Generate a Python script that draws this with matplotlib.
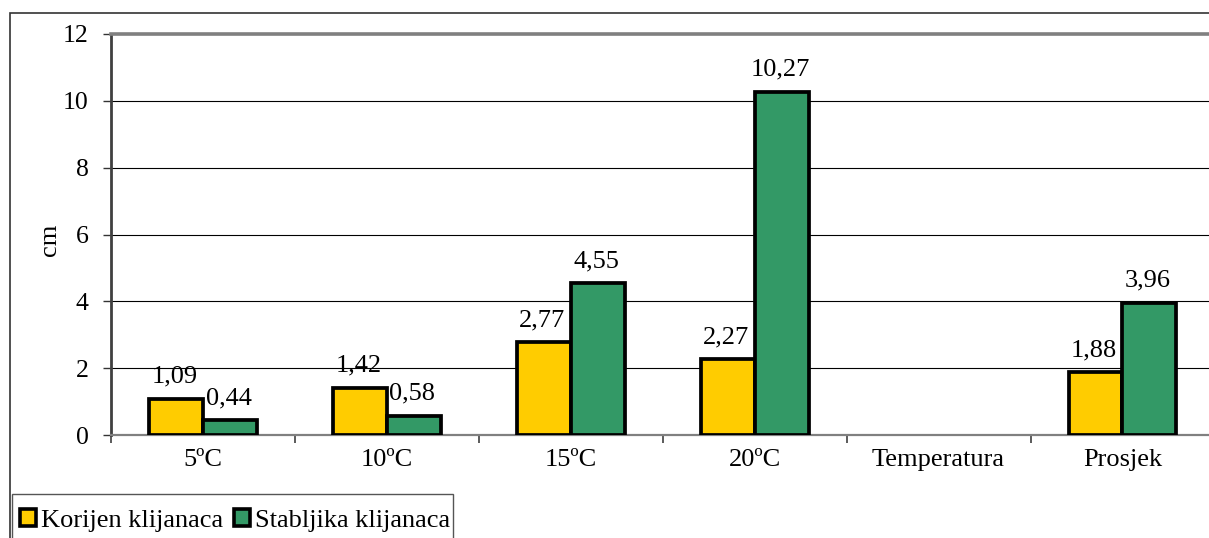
import numpy as np
import matplotlib
matplotlib.use("Agg")
import matplotlib.pyplot as plt
from matplotlib.patches import Rectangle, Patch
from matplotlib.ticker import FixedLocator

plt.rcParams['font.family'] = ['Liberation Serif', 'DejaVu Serif']

categories = ["5ºC", "10ºC", "15ºC", "20ºC", "Temperatura", "Prosjek"]
korijen = [1.09, 1.42, 2.77, 2.27, np.nan, 1.88]
stabljika = [0.44, 0.58, 4.55, 10.27, np.nan, 3.96]
series_names = ["Korijen klijanaca", "Stabljika klijanaca"]
y_ticks = [0, 2, 4, 6, 8, 10, 12]

yellow = "#FFCC00"
green = "#339966"

W, H = 1209, 538
fig = plt.figure(figsize=(W / 100, H / 100), dpi=100)

# outer chart border
fig.patches.append(Rectangle((10 / W, -0.2), 2.0, (H - 13) / H + 0.2,
                             transform=fig.transFigure, fill=False,
                             edgecolor="#333333", linewidth=1.2, zorder=0))
# legend frame (extends below the image)
fig.patches.append(Rectangle((12 / W, -0.2), (453 - 12) / W, (H - 494) / H + 0.2,
                             transform=fig.transFigure, fill=False,
                             edgecolor="#555555", linewidth=1.0, zorder=1))

left_px, top_px, bottom_px = 111, 34, 435
cat_w = 183.9
ax = fig.add_axes([left_px / W, 1 - bottom_px / H,
                   6 * cat_w / W, (bottom_px - top_px) / H])
ax.set_facecolor("none")

x = np.arange(len(categories))
bw = 0.293
ax.bar(x - bw / 2, korijen, bw, color=yellow, edgecolor="black",
       linewidth=2.7, zorder=3)
ax.bar(x + bw / 2, stabljika, bw, color=green, edgecolor="black",
       linewidth=2.7, zorder=3)

for xs, vals in ((x - bw / 2, korijen), (x + bw / 2, stabljika)):
    for xi, v in zip(xs, vals):
        if np.isnan(v):
            continue
        ax.annotate(f"{v:.2f}".replace(".", ","), (xi, v), xytext=(-1, 11.5),
                    textcoords="offset points", ha="center", va="baseline",
                    fontsize=19, zorder=5)

ax.set_xlim(-0.5, 5.5)
ax.set_ylim(0, 12)
ax.set_yticks(y_ticks)
ax.set_yticklabels([str(t) for t in y_ticks], fontsize=18.5)
ax.yaxis.grid(True, color="black", linewidth=0.8, zorder=0)
ax.set_axisbelow(True)

ax.set_xticks(x)
ax.set_xticklabels(categories, fontsize=19)
ax.xaxis.set_minor_locator(FixedLocator(np.arange(-0.5, 6.0, 1.0)))
ax.tick_params(axis="x", which="major", length=0, pad=10)
ax.tick_params(axis="x", which="minor", length=6, width=1.2, color="#404040",
               direction="out")
ax.tick_params(axis="y", which="major", length=5.5, width=1, color="#333333",
               direction="out", pad=10.5)

ax.spines["top"].set_color("#808080")
ax.spines["top"].set_linewidth(2.6)
ax.spines["left"].set_color("#404040")
ax.spines["left"].set_linewidth(2.0)
ax.spines["bottom"].set_color("#808080")
ax.spines["bottom"].set_linewidth(1.6)
ax.spines["right"].set_visible(False)

fig.text(50 / W, 1 - 240 / H, "cm", rotation=90, fontsize=19,
         ha="center", va="center")

handles = [Patch(facecolor=yellow, edgecolor="black", linewidth=2.6),
           Patch(facecolor=green, edgecolor="black", linewidth=2.6)]
leg = fig.legend(handles, series_names, loc="upper left",
                 bbox_to_anchor=(20 / W, 1 - 509 / H),
                 bbox_transform=fig.transFigure, borderaxespad=0,
                 ncol=2, fontsize=19, frameon=False,
                 handlelength=0.6, handleheight=0.6, handletextpad=0.2,
                 columnspacing=0.4, borderpad=0)

fig.savefig("out.png", dpi=100)
